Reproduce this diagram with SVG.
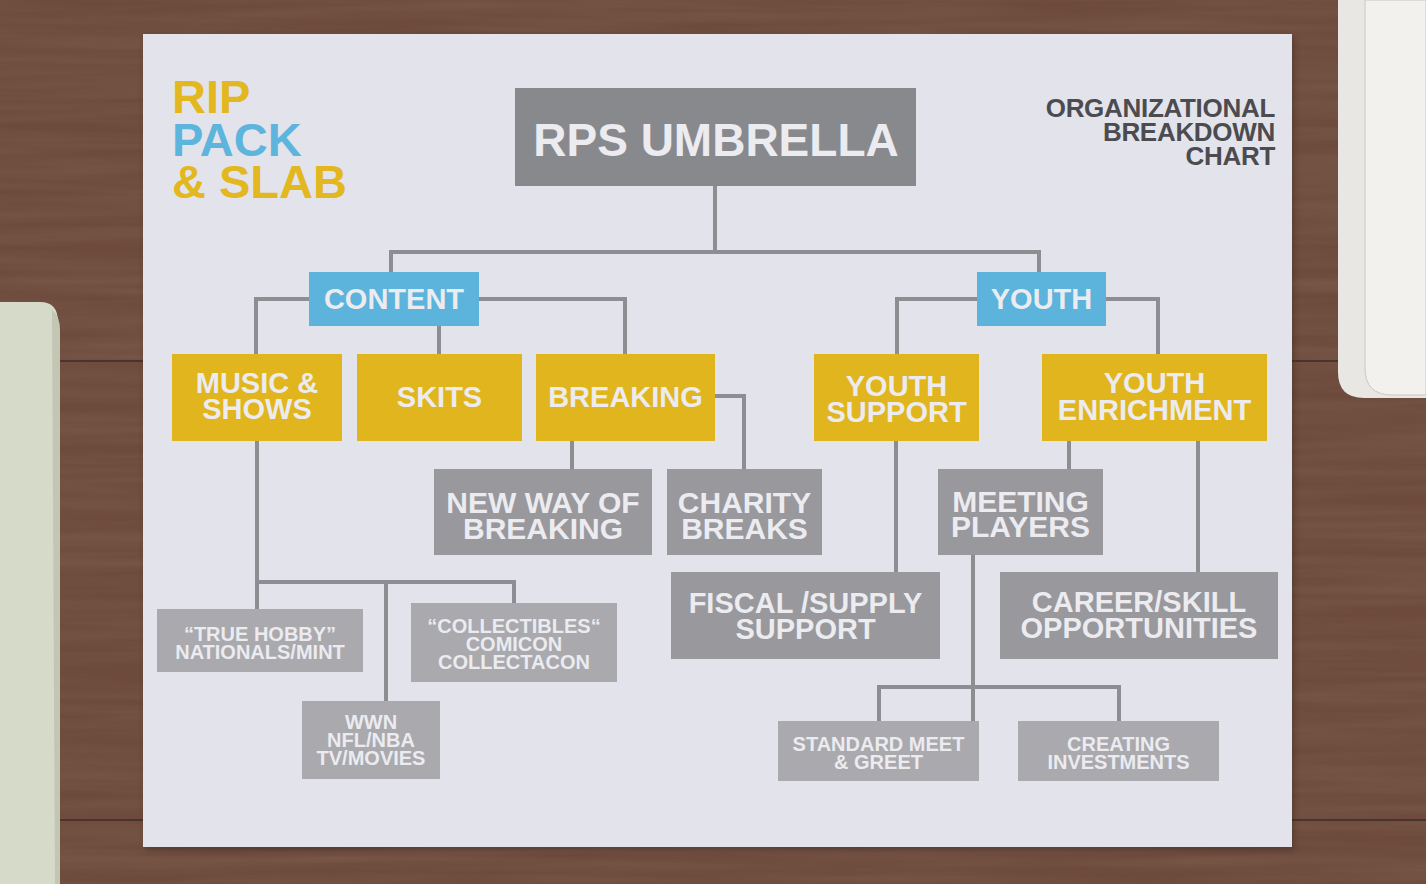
<svg xmlns="http://www.w3.org/2000/svg" width="1426" height="884" viewBox="0 0 1426 884">
<defs>
<style>
.t{font-family:"Liberation Sans",Arial,sans-serif;font-weight:bold;text-anchor:middle}
.lt{fill:#ebebf0}
.big{font-size:46px}
.m{font-size:29px}
.g{font-size:30px}
.s{font-size:20px}
.yel{fill:#e1b51e}
.blu{fill:#5cb3db}
.dk{fill:#88898d}
.md{fill:#98989d}
.lg{fill:#a9a9ae}
.con{fill:none;stroke:#8d8d92;stroke-width:4;stroke-linejoin:miter}
</style>
<filter id="grain" x="0" y="0" width="100%" height="100%">
<feTurbulence type="fractalNoise" baseFrequency="0.004 0.09" numOctaves="3" seed="4"/>
<feColorMatrix type="matrix" values="0 0 0 0 0.25  0 0 0 0 0.15  0 0 0 0 0.1  0 0 0 0.9 -0.2"/>
</filter>
<filter id="shadow" x="-5%" y="-5%" width="110%" height="110%">
<feGaussianBlur stdDeviation="3"/>
</filter>
</defs>
<g id="background">
<rect x="0" y="0" width="1426" height="884" fill="#6d4a3c"/>
<rect x="0" y="0" width="1426" height="884" filter="url(#grain)" opacity="0.6"/>
<line x1="0" y1="361" x2="1426" y2="361" stroke="#3a2a26" stroke-width="2" opacity="0.7"/>
<line x1="0" y1="820" x2="1426" y2="820" stroke="#3a2a26" stroke-width="2" opacity="0.7"/>
<path d="M0 302 H40 Q58 302 58 322 V884 H0 Z" fill="#d6dac8"/>
<path d="M52 310 Q60 316 60 330 V884 H55 Z" fill="#c2c6b3"/>
<path d="M1338 0 V372 Q1338 398 1364 398 H1426 V0 Z" fill="#e9e7e3"/>
<path d="M1365 0 V368 Q1365 395 1392 395 H1426 V0 Z" fill="#f3f1ed" stroke="#c9c7c2" stroke-width="1"/>
</g>
<g id="paper">
<rect x="145" y="37" width="1149" height="813" fill="#3a2a22" opacity="0.5" filter="url(#shadow)"/>
<rect x="143" y="34" width="1149" height="813" fill="#e3e4eb"/>
</g>
<g id="logo" font-family="Liberation Sans, Arial, sans-serif" font-weight="bold" font-size="47">
<text x="172" y="113" fill="#e2b720">RIP</text>
<text x="172" y="156" fill="#5db4dc">PACK</text>
<text x="172" y="198" fill="#e2b720">&amp; SLAB</text>
</g>
<g id="title" font-family="Liberation Sans, Arial, sans-serif" font-weight="bold" font-size="26" fill="#4b4b50" text-anchor="end">
<text x="1275" y="117" letter-spacing="-0.3">ORGANIZATIONAL</text>
<text x="1275" y="141" letter-spacing="-0.3">BREAKDOWN</text>
<text x="1275" y="165" letter-spacing="-0.3">CHART</text>
</g>
<g id="connectors" class="con">
<path class="con" d="M715 186 V252"/>
<path class="con" d="M391 273 V252 H1039 V273"/>
<path class="con" d="M309 299 H256 V354"/>
<path class="con" d="M479 299 H625 V354"/>
<path class="con" d="M439 326 V354"/>
<path class="con" d="M977 299 H897 V354"/>
<path class="con" d="M1106 299 H1158 V354"/>
<path class="con" d="M715 396 H744 V469"/>
<path class="con" d="M572 441 V469"/>
<path class="con" d="M257 441 V609"/>
<path class="con" d="M257 582 H514 V603"/>
<path class="con" d="M386 582 V701"/>
<path class="con" d="M896 441 V572"/>
<path class="con" d="M1069 441 V469"/>
<path class="con" d="M1198 441 V572"/>
<path class="con" d="M973 555 V721"/>
<path class="con" d="M879 721 V687 H1119 V721"/>
</g>
<g id="rps-umbrella">
<rect class="dk" x="515" y="88" width="401" height="98"/>
<text class="t lt big" x="716" y="156">RPS UMBRELLA</text>
</g>
<g id="content">
<rect class="blu" x="309" y="272" width="170" height="54"/>
<text class="t lt m" x="394" y="309">CONTENT</text>
</g>
<g id="youth">
<rect class="blu" x="977" y="272" width="129" height="54"/>
<text class="t lt m" x="1041.5" y="309">YOUTH</text>
</g>
<g id="music-shows">
<rect class="yel" x="172" y="354" width="170" height="87"/>
<text class="t lt m" x="257" y="393">MUSIC &amp;</text>
<text class="t lt m" x="257" y="419">SHOWS</text>
</g>
<g id="skits">
<rect class="yel" x="357" y="354" width="165" height="87"/>
<text class="t lt m" x="439.5" y="407">SKITS</text>
</g>
<g id="breaking">
<rect class="yel" x="536" y="354" width="179" height="87"/>
<text class="t lt m" x="625.5" y="407">BREAKING</text>
</g>
<g id="youth-support">
<rect class="yel" x="814" y="354" width="165" height="87"/>
<text class="t lt m" x="896.5" y="396">YOUTH</text>
<text class="t lt m" x="896.5" y="422">SUPPORT</text>
</g>
<g id="youth-enrichment">
<rect class="yel" x="1042" y="354" width="225" height="87"/>
<text class="t lt m" x="1154.5" y="393">YOUTH</text>
<text class="t lt m" x="1154.5" y="420">ENRICHMENT</text>
</g>
<g id="new-way-of-breaking">
<rect class="md" x="434" y="469" width="218" height="86"/>
<text class="t lt g" x="543" y="513">NEW WAY OF</text>
<text class="t lt g" x="543" y="539">BREAKING</text>
</g>
<g id="charity-breaks">
<rect class="md" x="667" y="469" width="155" height="86"/>
<text class="t lt g" x="744.5" y="513">CHARITY</text>
<text class="t lt g" x="744.5" y="539">BREAKS</text>
</g>
<g id="meeting-players">
<rect class="md" x="938" y="469" width="165" height="86"/>
<text class="t lt g" x="1020.5" y="512">MEETING</text>
<text class="t lt g" x="1020.5" y="537">PLAYERS</text>
</g>
<g id="fiscal-supply-support">
<rect class="md" x="671" y="572" width="269" height="87"/>
<text class="t lt m" x="805.5" y="613">FISCAL /SUPPLY</text>
<text class="t lt m" x="805.5" y="639">SUPPORT</text>
</g>
<g id="career-skill-opportunities">
<rect class="md" x="1000" y="572" width="278" height="87"/>
<text class="t lt m" x="1139" y="612">CAREER/SKILL</text>
<text class="t lt m" x="1139" y="638">OPPORTUNITIES</text>
</g>
<g id="true-hobby">
<rect class="lg" x="157" y="609" width="206" height="63"/>
<text class="t lt s" x="260" y="641">“TRUE HOBBY”</text>
<text class="t lt s" x="260" y="659">NATIONALS/MINT</text>
</g>
<g id="collectibles">
<rect class="lg" x="411" y="603" width="206" height="79"/>
<text class="t lt s" x="514" y="633">“COLLECTIBLES“</text>
<text class="t lt s" x="514" y="651">COMICON</text>
<text class="t lt s" x="514" y="669">COLLECTACON</text>
</g>
<g id="wwn">
<rect class="lg" x="302" y="701" width="138" height="78"/>
<text class="t lt s" x="371" y="729">WWN</text>
<text class="t lt s" x="371" y="747">NFL/NBA</text>
<text class="t lt s" x="371" y="765">TV/MOVIES</text>
</g>
<g id="standard-meet-greet">
<rect class="lg" x="778" y="721" width="201" height="60"/>
<text class="t lt s" x="878.5" y="751">STANDARD MEET</text>
<text class="t lt s" x="878.5" y="769">&amp; GREET</text>
</g>
<g id="creating-investments">
<rect class="lg" x="1018" y="721" width="201" height="60"/>
<text class="t lt s" x="1118.5" y="751">CREATING</text>
<text class="t lt s" x="1118.5" y="769">INVESTMENTS</text>
</g>
</svg>
